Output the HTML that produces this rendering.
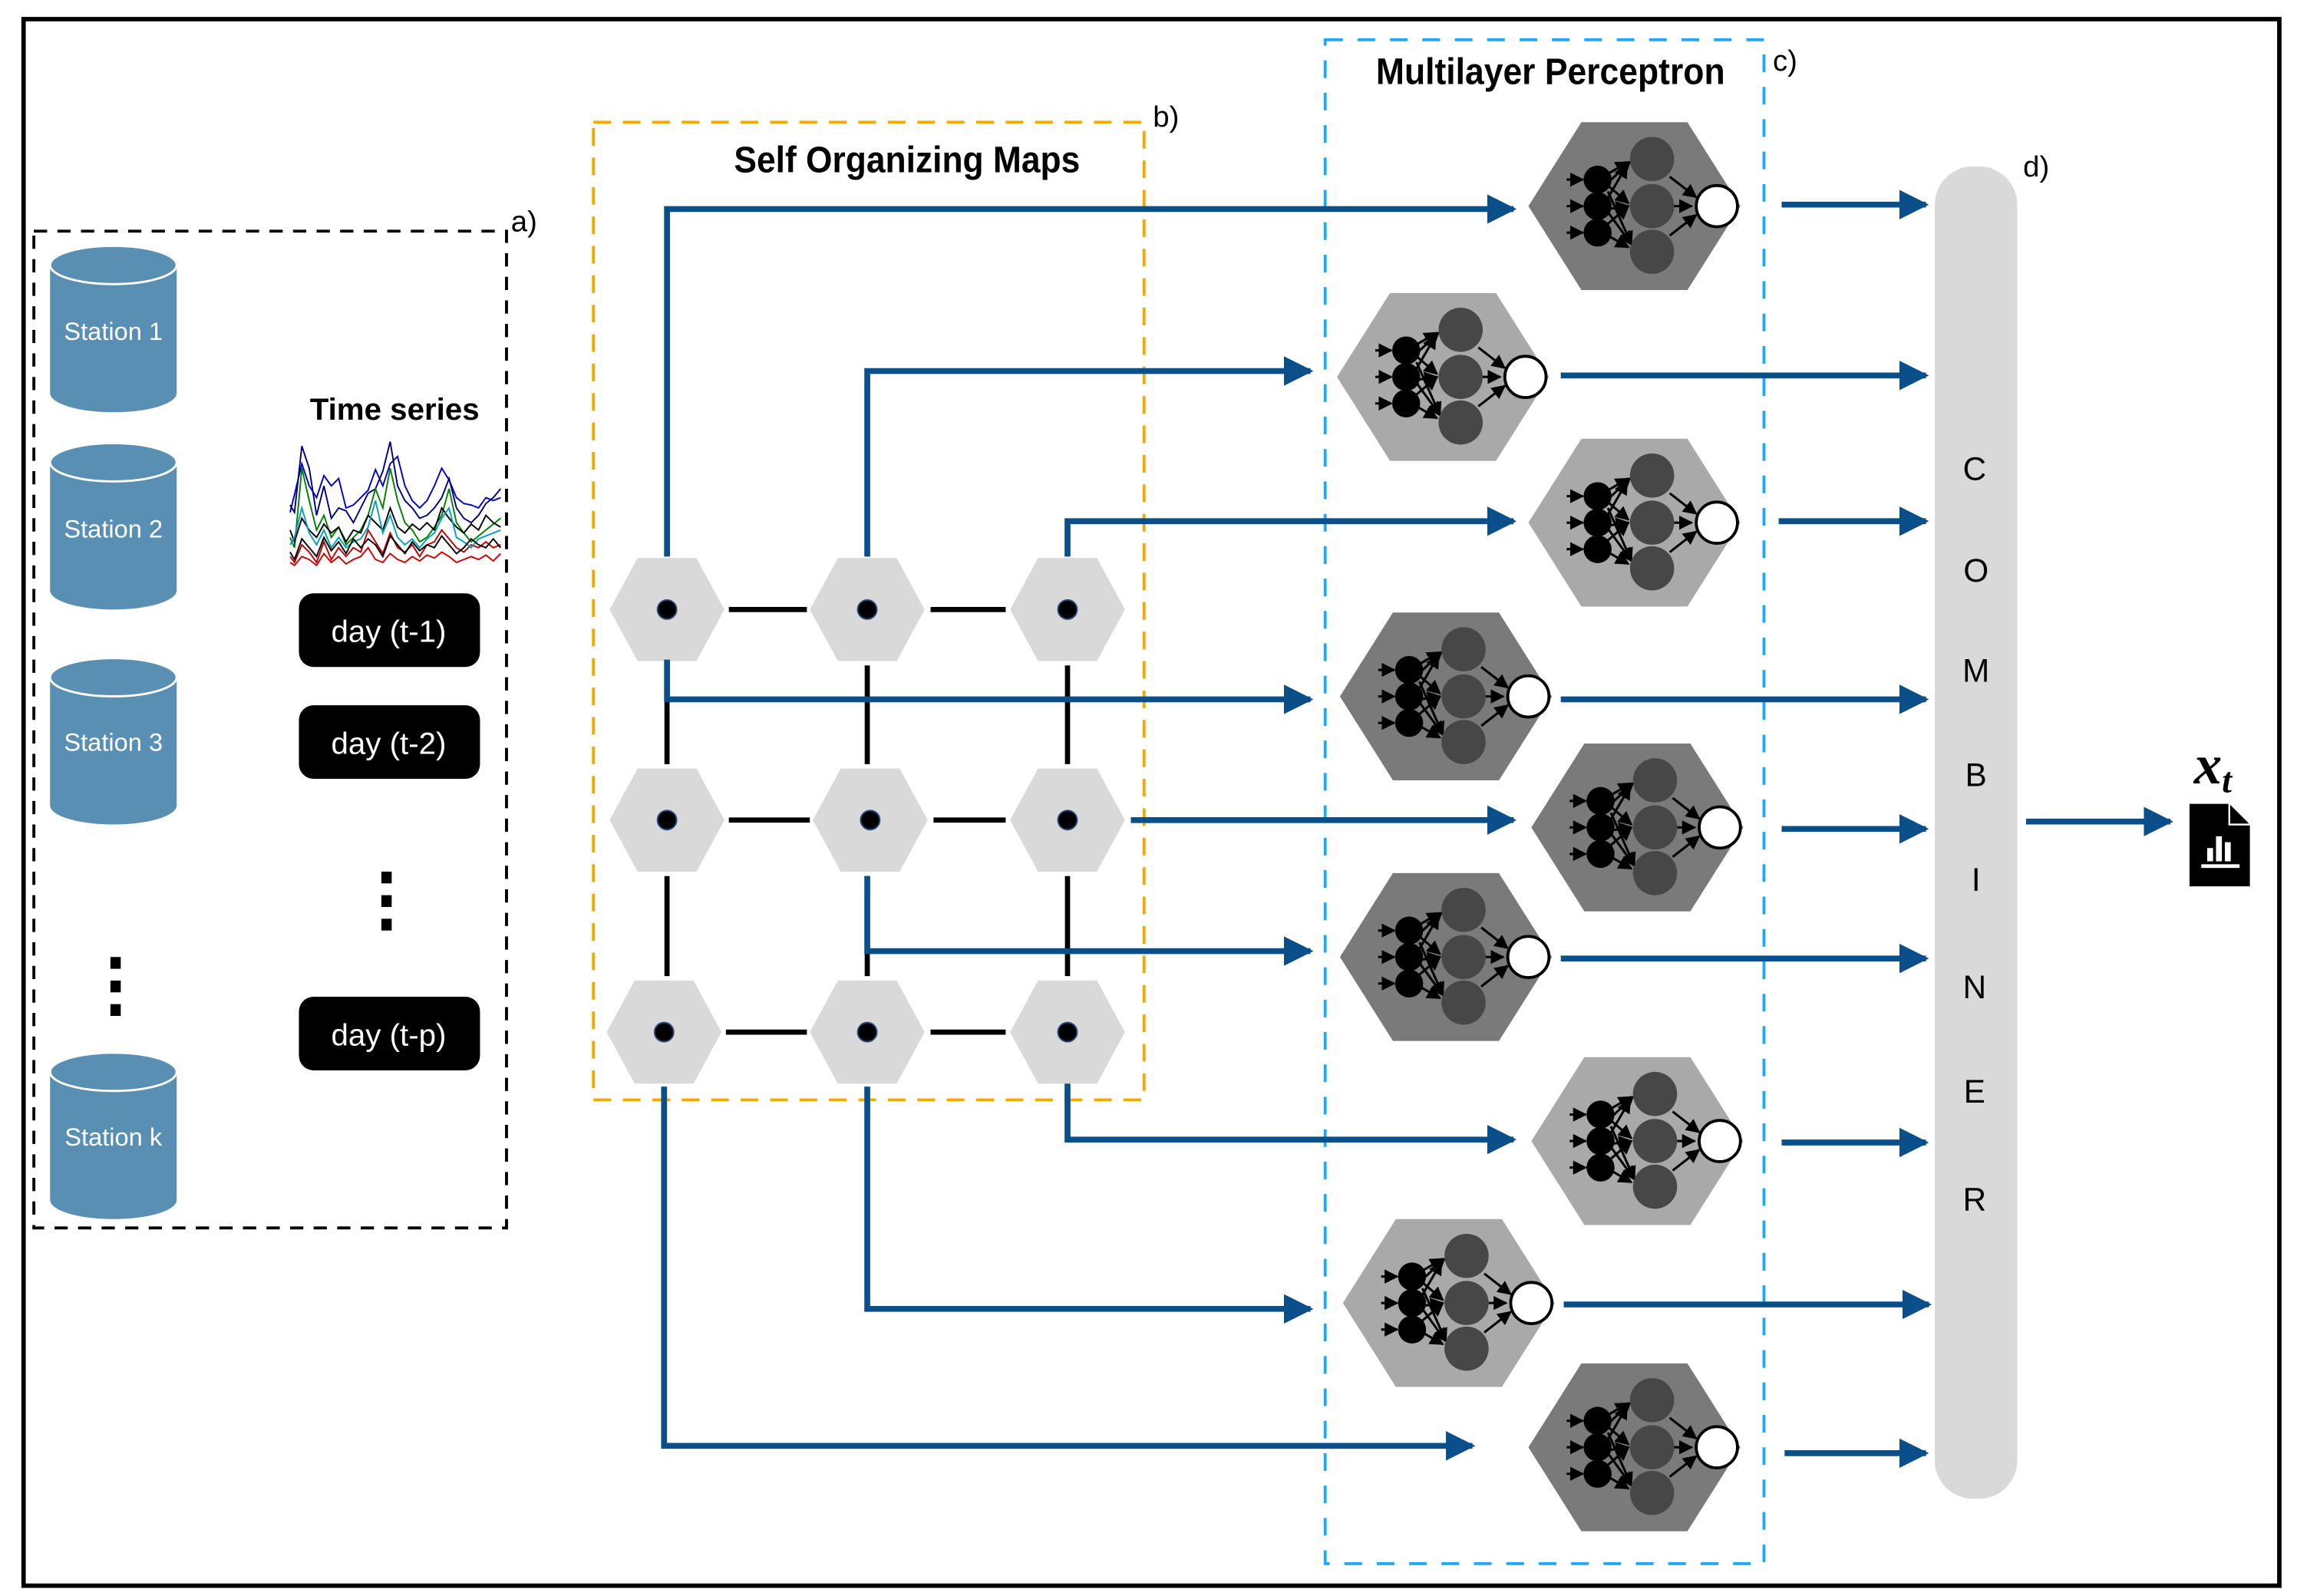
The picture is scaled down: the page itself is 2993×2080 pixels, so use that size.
<!DOCTYPE html>
<html><head><meta charset="utf-8"><style>
html,body{margin:0;padding:0;background:#fff;}
svg{display:block;}
text{font-family:"Liberation Sans Narrow","Liberation Sans",sans-serif;}
</style></head><body>
<svg width="2993" height="2080" viewBox="0 0 1560 1084" preserveAspectRatio="none" xmlns="http://www.w3.org/2000/svg">
<defs>
<marker id="ab" viewBox="0 0 10 10" refX="9" refY="5" markerWidth="5" markerHeight="5" orient="auto" markerUnits="strokeWidth"><path d="M0,0 L10,5 L0,10 z" fill="#0b4f8a"/></marker>
<marker id="ak" viewBox="0 0 10 10" refX="9" refY="5" markerWidth="6" markerHeight="6" orient="auto" markerUnits="strokeWidth"><path d="M0,0 L10,5 L0,10 z" fill="#000"/></marker>
<g id="net">
  <g stroke="#000" stroke-width="1.6" marker-end="url(#ak)">
    <line x1="-46" y1="-18" x2="-35" y2="-18"/>
    <line x1="-46" y1="0" x2="-35" y2="0"/>
    <line x1="-46" y1="18" x2="-35" y2="18"/>
    <line x1="-18" y1="-22" x2="-4" y2="-30"/>
    <line x1="-20" y1="-14" x2="-3" y2="-30"/>
    <line x1="-20" y1="-2" x2="-5" y2="-28"/>
    <line x1="-18" y1="-14" x2="-4" y2="-2"/>
    <line x1="-18" y1="2" x2="-4" y2="0"/>
    <line x1="-18" y1="12" x2="-4" y2="0"/>
    <line x1="-18" y1="-10" x2="-2" y2="26"/>
    <line x1="-18" y1="4" x2="-2" y2="26"/>
    <line x1="-18" y1="20" x2="-4" y2="28"/>
    <line x1="24" y1="-20" x2="42" y2="-6"/>
    <line x1="27" y1="0" x2="39" y2="0"/>
    <line x1="24" y1="20" x2="42" y2="6"/>
  </g>
  <circle cx="-25" cy="-18" r="9.5" fill="#000"/>
  <circle cx="-25" cy="0" r="9.5" fill="#000"/>
  <circle cx="-25" cy="18" r="9.5" fill="#000"/>
  <circle cx="12" cy="-32" r="15" fill="#474747"/>
  <circle cx="12" cy="0" r="15" fill="#474747"/>
  <circle cx="12" cy="31" r="15" fill="#474747"/>
  <circle cx="56" cy="0" r="14" fill="#fff" stroke="#000" stroke-width="2"/>
</g>
<g id="somh">
  <polygon points="-39,0 -20,-35 20,-35 39,0 20,35 -20,35" fill="#d9d9d9"/>
  <circle cx="0" cy="0" r="6.5" fill="#000" stroke="#2a4a7a" stroke-width="1"/>
</g>
<g id="cyl">
  <path d="M0,13 L0,100 A43,13 0 0 0 86,100 L86,13" fill="#5a8fb4"/>
  <ellipse cx="43" cy="13" rx="43" ry="13" fill="#5a8fb4" stroke="#fff" stroke-width="1.5"/>
</g>
</defs>

<rect x="16" y="13" width="1532" height="1064" fill="none" stroke="#000" stroke-width="3"/>

<!-- a) -->
<rect x="23" y="157" width="321" height="677" fill="none" stroke="#000" stroke-width="2" stroke-dasharray="9,7"/>
<text x="347" y="157" font-size="20">a)</text>
<use href="#cyl" x="34" y="167"/>
<use href="#cyl" x="34" y="301"/>
<use href="#cyl" x="34" y="447"/>
<use href="#cyl" x="34" y="715"/>
<g fill="#fff" font-size="17" text-anchor="middle">
<text x="77" y="231">Station 1</text>
<text x="77" y="365">Station 2</text>
<text x="77" y="510">Station 3</text>
<text x="77" y="778">Station k</text>
</g>
<g fill="#000">
<rect x="75" y="650" width="7" height="8"/><rect x="75" y="666" width="7" height="8"/><rect x="75" y="682" width="7" height="8"/>
<rect x="259" y="592" width="7" height="8"/><rect x="259" y="608" width="7" height="8"/><rect x="259" y="624" width="7" height="8"/>
</g>
<text x="268" y="285" font-size="21" font-weight="bold" text-anchor="middle">Time series</text>
<g fill="none" stroke-width="1">
<polyline stroke="#0000c8" points="197,348 200,336 205,315 210,330 215,338 220,323 225,330 230,325 235,345 240,343 245,338 250,333 255,319 260,330 265,315 270,310 275,330 280,340 285,345 290,340 295,330 300,318 305,326 310,338 315,342 320,343 325,345 330,338 335,340 340,338"/>
<polyline stroke="#000080" points="197,343 200,348 205,303 210,318 215,350 220,330 225,352 230,345 235,347 240,355 245,345 250,335 255,332 260,320 265,300 270,330 275,340 280,345 285,352 290,350 295,345 300,338 305,325 310,345 315,352 320,355 325,350 330,342 335,338 340,332"/>
<polyline stroke="#008000" points="197,365 200,372 205,318 210,340 215,360 220,350 225,365 230,358 235,370 240,365 245,360 250,350 255,332 260,345 265,318 270,340 275,355 280,360 285,368 290,365 295,358 300,350 305,332 310,355 315,362 320,368 325,364 330,360 335,356 340,352"/>
<polyline stroke="#c00000" points="197,378 200,382 205,370 210,375 215,382 220,368 225,380 230,372 235,378 240,372 245,375 250,360 255,368 260,376 265,362 270,372 275,375 280,370 285,378 290,370 295,368 300,360 305,366 310,372 315,375 320,370 325,372 330,368 335,372 340,370"/>
<polyline stroke="#000" points="197,360 200,368 205,352 210,360 215,365 220,356 225,362 230,358 235,368 240,360 245,362 250,350 255,355 260,360 265,345 270,358 275,362 280,356 285,360 290,355 295,360 300,345 305,352 310,358 315,362 320,356 325,360 330,350 335,355 340,358"/>
<polyline stroke="#00a0c0" points="197,370 200,365 205,345 210,362 215,370 220,360 225,372 230,365 235,372 240,368 245,366 250,358 255,340 260,362 265,350 270,365 275,370 280,366 285,372 290,366 295,362 300,352 305,345 310,365 315,368 320,372 325,366 330,364 335,362 340,360"/>
<polyline stroke="#000" points="197,375 200,380 205,366 210,372 215,378 220,365 225,374 230,368 235,376 240,366 245,372 250,366 255,370 260,378 265,364 270,370 275,376 280,368 285,374 290,370 295,372 300,364 305,370 310,376 315,372 320,366 325,370 330,372 335,366 340,372"/>
<polyline stroke="#d00000" points="197,382 200,384 205,378 210,380 215,384 220,376 225,382 230,378 235,383 240,380 245,378 250,372 255,380 260,382 265,376 270,380 275,382 280,378 285,381 290,377 295,379 300,375 305,378 310,382 315,380 320,378 325,380 330,377 335,381 340,376"/>
</g>
<g fill="#000">
<rect x="203" y="403" width="123" height="50" rx="10"/>
<rect x="203" y="479" width="123" height="50" rx="10"/>
<rect x="203" y="677" width="123" height="50" rx="10"/>
</g>
<g fill="#fff" font-size="21" text-anchor="middle">
<text x="264" y="436">day (t-1)</text>
<text x="264" y="512">day (t-2)</text>
<text x="264" y="710">day (t-p)</text>
</g>

<!-- b) SOM -->
<rect x="403" y="83" width="374" height="664" fill="none" stroke="#f5a900" stroke-width="2" stroke-dasharray="12,8"/>
<text x="783" y="86" font-size="20">b)</text>
<text x="616" y="117" font-size="25" font-weight="bold" text-anchor="middle" textLength="235" lengthAdjust="spacingAndGlyphs">Self Organizing Maps</text>
<g stroke="#000" stroke-width="3.5">
<line x1="495" y1="414" x2="548" y2="414"/><line x1="632" y1="414" x2="683" y2="414"/>
<line x1="495" y1="557" x2="550" y2="557"/><line x1="634" y1="557" x2="683" y2="557"/>
<line x1="493" y1="701" x2="548" y2="701"/><line x1="632" y1="701" x2="683" y2="701"/>
<line x1="453" y1="452" x2="453" y2="519"/><line x1="589" y1="452" x2="589" y2="519"/><line x1="725" y1="452" x2="725" y2="519"/>
<line x1="453" y1="595" x2="453" y2="663"/><line x1="589" y1="595" x2="589" y2="663"/><line x1="725" y1="595" x2="725" y2="663"/>
</g>
<use href="#somh" x="453" y="414"/><use href="#somh" x="589" y="414"/><use href="#somh" x="725" y="414"/>
<use href="#somh" x="453" y="557"/><use href="#somh" x="591" y="557"/><use href="#somh" x="725" y="557"/>
<use href="#somh" x="451" y="701"/><use href="#somh" x="589" y="701"/><use href="#somh" x="725" y="701"/>

<!-- c) MLP -->
<rect x="900" y="27" width="298" height="1035" fill="none" stroke="#1ea7ff" stroke-width="2" stroke-dasharray="12,10"/>
<text x="1204" y="48" font-size="20">c)</text>
<text x="1053" y="57" font-size="25" font-weight="bold" text-anchor="middle" textLength="237" lengthAdjust="spacingAndGlyphs">Multilayer Perceptron</text>
<g>
<polygon transform="translate(1110,140)" points="-72,0 -36,-57 36,-57 72,0 36,57 -36,57" fill="#7a7a7a"/><use href="#net" x="1110" y="140"/>
<polygon transform="translate(980,256)" points="-72,0 -36,-57 36,-57 72,0 36,57 -36,57" fill="#a9a9a9"/><use href="#net" x="980" y="256"/>
<polygon transform="translate(1110,355)" points="-72,0 -36,-57 36,-57 72,0 36,57 -36,57" fill="#a9a9a9"/><use href="#net" x="1110" y="355"/>
<polygon transform="translate(982,473)" points="-72,0 -36,-57 36,-57 72,0 36,57 -36,57" fill="#7a7a7a"/><use href="#net" x="982" y="473"/>
<polygon transform="translate(1112,562)" points="-72,0 -36,-57 36,-57 72,0 36,57 -36,57" fill="#7a7a7a"/><use href="#net" x="1112" y="562"/>
<polygon transform="translate(982,650)" points="-72,0 -36,-57 36,-57 72,0 36,57 -36,57" fill="#7a7a7a"/><use href="#net" x="982" y="650"/>
<polygon transform="translate(1112,775)" points="-72,0 -36,-57 36,-57 72,0 36,57 -36,57" fill="#a9a9a9"/><use href="#net" x="1112" y="775"/>
<polygon transform="translate(984,885)" points="-72,0 -36,-57 36,-57 72,0 36,57 -36,57" fill="#a9a9a9"/><use href="#net" x="984" y="885"/>
<polygon transform="translate(1110,983)" points="-72,0 -36,-57 36,-57 72,0 36,57 -36,57" fill="#7a7a7a"/><use href="#net" x="1110" y="983"/>
</g>

<!-- blue connectors -->
<g fill="none" stroke="#0b4f8a" stroke-width="4" marker-end="url(#ab)">
<polyline points="453,378 453,142 1028,142"/>
<polyline points="589,378 589,252 890,252"/>
<polyline points="725,378 725,354 1028,354"/>
<polyline points="453,448 453,475 890,475"/>
<polyline points="768,557 1028,557"/>
<polyline points="589,595 589,646 890,646"/>
<polyline points="725,736 725,774 1028,774"/>
<polyline points="589,738 589,889 890,889"/>
<polyline points="451,738 451,982 1000,982"/>
<line x1="1210" y1="139" x2="1308" y2="139"/>
<line x1="1060" y1="255" x2="1308" y2="255"/>
<line x1="1208" y1="354" x2="1308" y2="354"/>
<line x1="1060" y1="475" x2="1308" y2="475"/>
<line x1="1210" y1="563" x2="1308" y2="563"/>
<line x1="1060" y1="651" x2="1308" y2="651"/>
<line x1="1210" y1="776" x2="1308" y2="776"/>
<line x1="1062" y1="886" x2="1310" y2="886"/>
<line x1="1212" y1="987" x2="1308" y2="987"/>
<line x1="1376" y1="558" x2="1474" y2="558"/>
</g>

<!-- d) combiner -->
<rect x="1314" y="113" width="56" height="905" rx="26" fill="#d9d9d9"/>
<text x="1374" y="120" font-size="20">d)</text>
<g font-size="22" text-anchor="middle" font-family="Liberation Sans, sans-serif">
<text x="1341" y="326">C</text><text x="1342" y="395">O</text><text x="1342" y="463">M</text>
<text x="1342" y="534">B</text><text x="1342" y="605">I</text><text x="1341" y="678">N</text>
<text x="1341" y="749">E</text><text x="1341" y="822">R</text>
</g>

<!-- output -->
<text x="1490" y="532" font-size="38" font-weight="bold" font-style="italic" style="font-family:'Liberation Serif',serif">x<tspan font-size="24" dy="6">t</tspan></text>
<path d="M1487,546 L1514,546 L1528,560 L1528,602 L1487,602 Z" fill="#000"/>
<path d="M1514,546 L1514,560 L1528,560" fill="none" stroke="#fff" stroke-width="1.2"/>
<g fill="#fff">
<rect x="1499" y="576" width="4" height="9"/><rect x="1505" y="568" width="4" height="17"/><rect x="1511" y="572" width="4" height="13"/>
<rect x="1495" y="587" width="26" height="2.5"/>
</g>
</svg>
</body></html>
